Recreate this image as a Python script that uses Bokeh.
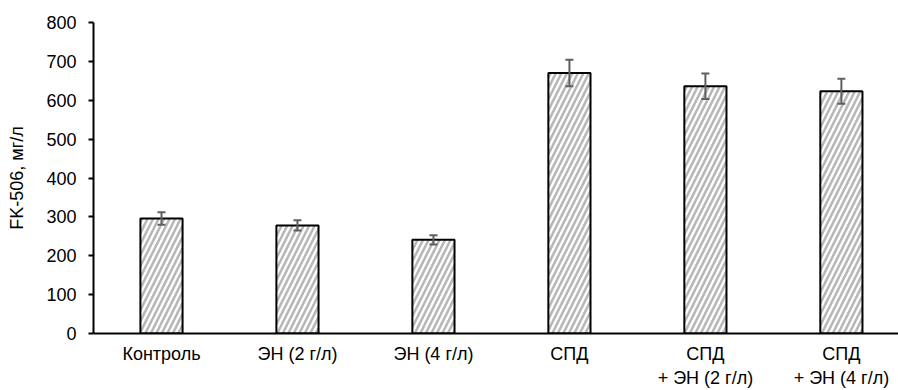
from bokeh.plotting import figure
from bokeh.models import ColumnDataSource, Range1d, FixedTicker, Whisker, TeeHead
from bokeh.embed import file_html
from bokeh.resources import INLINE

categories = ["Контроль", "ЭН (2 г/л)", "ЭН (4 г/л)", "СПД", "СПД\n+ ЭН (2 г/л)", "СПД\n+ ЭН (4 г/л)"]
values = [296, 278, 241, 670, 636, 623]
errors = [16, 13, 12, 34, 33, 32]
y_ticks = [0, 100, 200, 300, 400, 500, 600, 700, 800]

xs = list(range(len(categories)))
src = ColumnDataSource(dict(
    x=xs, top=values,
    upper=[v + e for v, e in zip(values, errors)],
    lower=[v - e for v, e in zip(values, errors)],
))

FONT = "Liberation Sans"
FS = "18px"

p = figure(width=898, height=390, output_backend="svg", toolbar_location=None,
           x_range=Range1d(-0.5, 5.42), y_range=Range1d(0, 800),
           min_border_left=93, min_border_right=0, min_border_top=22, min_border_bottom=57)
p.outline_line_color = None
p.xgrid.visible = False
p.ygrid.visible = False

p.vbar(x="x", top="top", width=0.31, source=src, fill_color="white",
       line_color="black", line_width=2,
       hatch_pattern="/", hatch_color="#b8b8b8", hatch_weight=2.6, hatch_scale=11)

wh = Whisker(base="x", upper="upper", lower="lower", source=src, level="overlay",
             line_color="#5f5f5f", line_width=2,
             upper_head=TeeHead(size=8, line_color="#5f5f5f", line_width=2),
             lower_head=TeeHead(size=8, line_color="#5f5f5f", line_width=2))
p.add_layout(wh)

p.yaxis.ticker = FixedTicker(ticks=y_ticks)
p.yaxis.minor_tick_line_color = None
p.yaxis.major_tick_out = 5
p.yaxis.major_tick_in = 0
p.yaxis.major_tick_line_width = 2
p.yaxis.axis_line_width = 2
p.yaxis.major_label_text_font = FONT
p.yaxis.major_label_text_font_size = FS
p.yaxis.major_label_text_color = "black"
p.yaxis.major_label_standoff = 12
p.yaxis.axis_label = "FK-506, мг/л"
p.yaxis.axis_label_text_font = FONT
p.yaxis.axis_label_text_font_size = FS
p.yaxis.axis_label_text_font_style = "normal"
p.yaxis.axis_label_text_color = "black"
p.yaxis.axis_label_standoff = 16

p.xaxis.ticker = FixedTicker(ticks=xs)
p.xaxis.major_label_overrides = {i: c for i, c in zip(xs, categories)}
p.xaxis.major_tick_line_color = None
p.xaxis.minor_tick_line_color = None
p.xaxis.axis_line_width = 2
p.xaxis.major_label_text_font = FONT
p.xaxis.major_label_text_font_size = FS
p.xaxis.major_label_text_color = "black"
p.xaxis.major_label_standoff = 4

open("out.html", "w").write(file_html(p, INLINE))
